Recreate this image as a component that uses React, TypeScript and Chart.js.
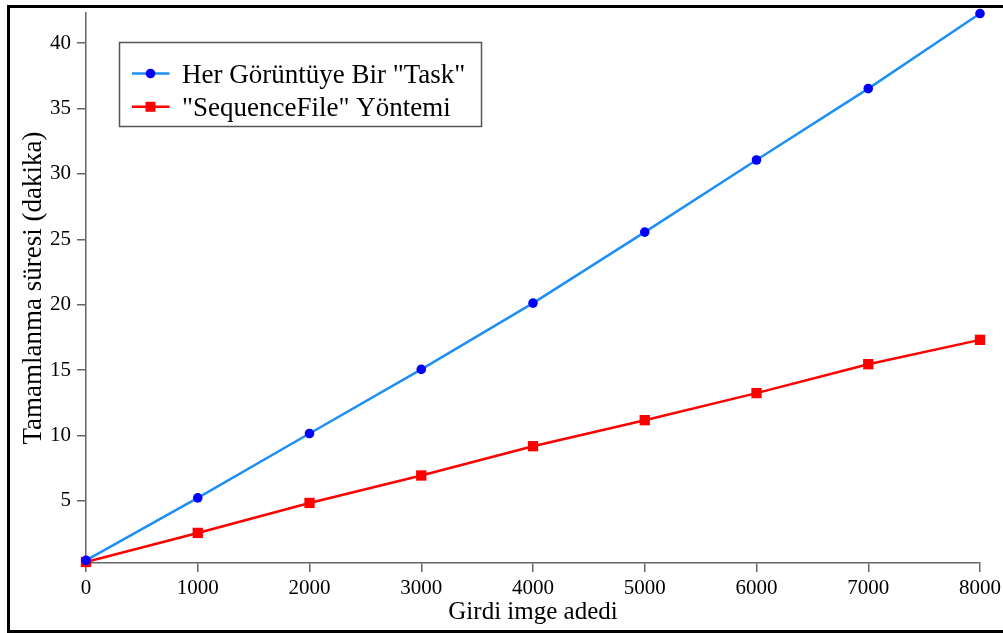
import React, { useEffect, useRef } from "react";
import { Chart, registerables } from "chart.js";

Chart.register(...registerables);

// ---- data ----
const imageCounts = [0, 1000, 2000, 3000, 4000, 5000, 6000, 7000, 8000];
const taskPerImage = [0.45, 5.23, 10.15, 15.05, 20.12, 25.55, 31.06, 36.52, 42.26];
const sequenceFile = [0.33, 2.55, 4.84, 6.94, 9.18, 11.17, 13.24, 15.45, 17.31];
const xTickValues = [0, 1000, 2000, 3000, 4000, 5000, 6000, 7000, 8000];
const yTickValues = [5, 10, 15, 20, 25, 30, 35, 40];
const seriesLabels = ['Her Görüntüye Bir "Task"', '"SequenceFile" Yöntemi'];
const xTitle = "Girdi imge adedi";
const yTitle = "Tamamlanma süresi (dakika)";

const FONT = "'Liberation Serif', 'Times New Roman', serif";

const framePlugin = {
  id: "frame",
  afterDraw(chart: any) {
    const ctx = chart.ctx;
    ctx.save();
    ctx.strokeStyle = "#000";
    ctx.lineWidth = 3;
    ctx.strokeRect(8.5, 6.5, 1010, 625);
    ctx.restore();
  },
};

const legendPlugin = {
  id: "insideLegend",
  afterDraw(chart: any) {
    const ctx = chart.ctx;
    const area = chart.chartArea;
    const bx = area.left + 33.5;
    const by = area.top + 29.5;
    ctx.save();
    ctx.fillStyle = "#fff";
    ctx.fillRect(bx, by, 362, 84);
    ctx.strokeStyle = "#555";
    ctx.lineWidth = 1.5;
    ctx.strokeRect(bx, by, 362, 84);
    chart.data.datasets.forEach((ds: any, i: number) => {
      const cy = by + 31 + i * 33.3;
      ctx.strokeStyle = ds.borderColor;
      ctx.lineWidth = 2.5;
      ctx.beginPath();
      ctx.moveTo(bx + 12.5, cy);
      ctx.lineTo(bx + 50, cy);
      ctx.stroke();
      ctx.fillStyle = ds.pointBackgroundColor;
      const mx = bx + 31;
      if (ds.pointStyle === "rect") {
        ctx.fillRect(mx - 5, cy - 5, 10, 10);
      } else {
        ctx.beginPath();
        ctx.arc(mx, cy, 4.8, 0, Math.PI * 2);
        ctx.fill();
      }
      ctx.fillStyle = "#000";
      ctx.font = `27px ${FONT}`;
      ctx.textBaseline = "alphabetic";
      ctx.textAlign = "left";
      ctx.fillText(ds.label, bx + 62.5, cy + 9.5);
    });
    ctx.restore();
  },
};

export default function App() {
  const ref = useRef<HTMLCanvasElement | null>(null);

  useEffect(() => {
    if (!ref.current) return;
    const tickFont = { family: FONT, size: 21 };
    const chart = new Chart(ref.current, {
      type: "line",
      data: {
        datasets: [
          {
            label: seriesLabels[0],
            data: imageCounts.map((x, i) => ({ x, y: taskPerImage[i] })),
            borderColor: "#1E8FF5",
            backgroundColor: "#0000FF",
            pointBackgroundColor: "#0000FF",
            pointBorderColor: "#0000FF",
            pointBorderWidth: 0,
            pointStyle: "circle",
            pointRadius: 4.8,
            borderWidth: 2.5,
            clip: false,
          } as any,
          {
            label: seriesLabels[1],
            data: imageCounts.map((x, i) => ({ x, y: sequenceFile[i] })),
            borderColor: "#FF0000",
            backgroundColor: "#FF0000",
            pointBackgroundColor: "#FF0000",
            pointBorderColor: "#FF0000",
            pointBorderWidth: 0,
            pointStyle: "rect",
            pointRadius: 7.3,
            borderWidth: 2.5,
            clip: false,
          } as any,
        ],
      },
      options: {
        animation: false,
        responsive: false,
        devicePixelRatio: 1,
        layout: { padding: { top: 13, right: 23, left: 0, bottom: 0 } },
        plugins: { legend: { display: false }, tooltip: { enabled: false } },
        scales: {
          x: {
            type: "linear",
            min: 0,
            max: 8000,
            afterBuildTicks: (s: any) => {
              s.ticks = xTickValues.map((v) => ({ value: v }));
            },
            afterFit: (s: any) => {
              s.height = 70;
              s.paddingRight = 0;
              s.paddingLeft = 0;
            },
            ticks: {
              font: tickFont,
              color: "#000",
              padding: 4,
              maxRotation: 0,
              autoSkip: false,
              callback: (v: any) => String(v),
            },
            grid: { drawOnChartArea: false, drawTicks: true, tickLength: 9, color: "#666", lineWidth: 1.5 },
            border: { display: true, color: "#666", width: 1.5 },
            title: { display: true, text: xTitle, font: { family: FONT, size: 25 }, color: "#000", padding: { top: 0, bottom: 6 } },
          },
          y: {
            type: "linear",
            min: 0.25,
            max: 42.3,
            afterBuildTicks: (s: any) => {
              s.ticks = yTickValues.map((v) => ({ value: v }));
            },
            afterFit: (s: any) => {
              s.width = 86;
              s.paddingTop = 0;
              s.paddingBottom = 0;
            },
            ticks: {
              font: tickFont,
              color: "#000",
              padding: 6,
              autoSkip: false,
              callback: (v: any) => String(v),
            },
            grid: { drawOnChartArea: false, drawTicks: true, tickLength: 9, color: "#666", lineWidth: 1.5 },
            border: { display: true, color: "#666", width: 1.5 },
            title: { display: true, text: yTitle, font: { family: FONT, size: 27 }, color: "#000", padding: { top: 18, bottom: 0 } },
          },
        },
      },
      plugins: [legendPlugin, framePlugin],
    });
    return () => chart.destroy();
  }, []);

  return (
    <div style={{ position: "fixed", left: 0, top: 0, width: 1003, height: 633, background: "#fff" }}>
      <canvas ref={ref} width={1003} height={633} style={{ display: "block", width: 1003, height: 633 }} />
    </div>
  );
}
